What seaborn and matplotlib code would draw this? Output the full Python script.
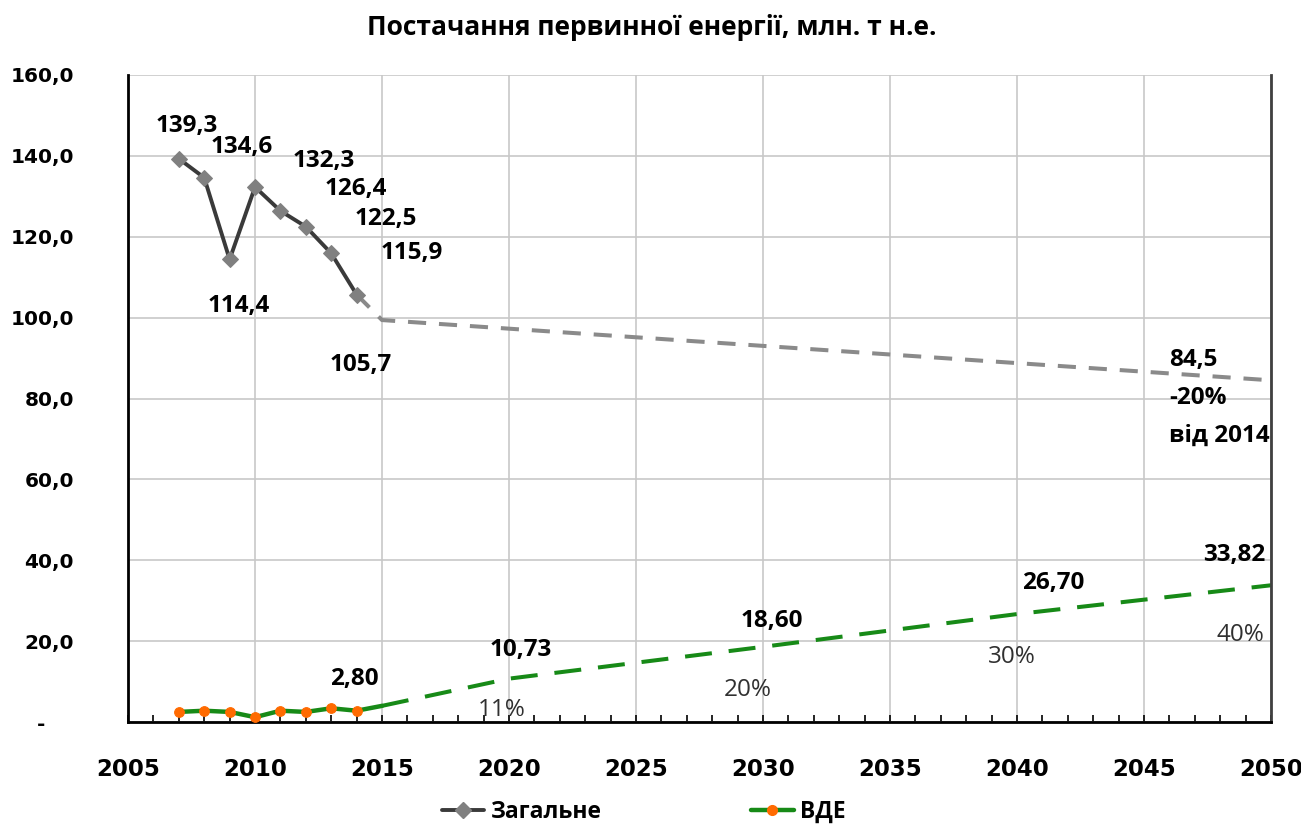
import numpy as np
import pandas as pd
import matplotlib
matplotlib.use("Agg")
import matplotlib.pyplot as plt
import seaborn as sns
from matplotlib.ticker import FuncFormatter, MultipleLocator
from matplotlib.lines import Line2D

# дані: загальне постачання первинної енергії
roky_fakt = [2007, 2008, 2009, 2010, 2011, 2012, 2013, 2014]
zagalne = [139.3, 134.6, 114.4, 132.3, 126.4, 122.5, 115.9, 105.7]
roky_prognoz = [2014, 2015, 2050]
zagalne_prognoz = [105.7, 99.4, 84.5]

# ВДЕ
roky_vde = [2007, 2008, 2009, 2010, 2011, 2012, 2013, 2014, 2015]
vde = [2.5, 2.8, 2.5, 1.2, 2.8, 2.5, 3.4, 2.8, 4.0]
roky_vde_prognoz = [2015, 2020, 2030, 2040, 2050]
vde_prognoz = [4.0, 10.73, 18.60, 26.70, 33.82]
chastka_vde = ["11%", "20%", "30%", "40%"]

sns.set_style("whitegrid")
plt.rcParams['font.family'] = ['Open Sans', 'DejaVu Sans']
plt.rcParams['text.color'] = 'black'
plt.rcParams['xtick.color'] = 'black'
plt.rcParams['ytick.color'] = 'black'

fig = plt.figure(figsize=(13.01, 8.25), dpi=100)
ax = fig.add_axes([0.0984, 0.1248, 0.8786, 0.7843])

df_f = pd.DataFrame({'rik': roky_fakt, 'v': zagalne})
df_p = pd.DataFrame({'rik': roky_prognoz, 'v': zagalne_prognoz})
df_v = pd.DataFrame({'rik': roky_vde, 'v': vde})
df_vp = pd.DataFrame({'rik': roky_vde_prognoz, 'v': vde_prognoz})

# прогнози (пунктир)
sns.lineplot(data=df_p, x='rik', y='v', ax=ax, color='#8a8a8a', lw=2.9, zorder=2)
ax.lines[-1].set_dashes((4.5, 3.2))
sns.lineplot(data=df_vp, x='rik', y='v', ax=ax, color='#178a17', lw=2.9, zorder=2)
ax.lines[-1].set_dashes((6.7, 4.2))

# факт
sns.lineplot(data=df_f, x='rik', y='v', ax=ax, color='#3a3a3a', lw=2.8,
             marker='D', markersize=8, markerfacecolor='#808080',
             markeredgecolor='#808080', zorder=3)
sns.lineplot(data=df_v, x='rik', y='v', ax=ax, color='#178a17', lw=3.2,
             marker='o', markersize=7, markerfacecolor='#ff6a00',
             markeredgecolor='#ff6a00', markevery=list(range(8)), zorder=3)

ax.set_xlim(2005, 2050)
ax.set_ylim(0, 160)
ax.xaxis.set_major_locator(MultipleLocator(5))
ax.xaxis.set_minor_locator(MultipleLocator(1))
ax.yaxis.set_major_locator(MultipleLocator(20))
ax.yaxis.set_major_formatter(FuncFormatter(
    lambda v, p: '-    ' if abs(v) < 1e-9 else f"{v:.1f}".replace('.', ',')))
ax.set_xlabel('')
ax.set_ylabel('')

ax.grid(True, color='#c8c8c8', lw=1.2)
for s in ['left', 'bottom']:
    ax.spines[s].set_color('black')
    ax.spines[s].set_linewidth(2)
ax.spines['right'].set_color('#404040')
ax.spines['right'].set_linewidth(2)
ax.spines['top'].set_visible(False)
ax.tick_params(axis='x', which='minor', direction='in', length=5, width=1.2,
               color='black', bottom=True)
ax.tick_params(axis='x', which='major', direction='in', length=5, width=1.2,
               color='black', bottom=True, pad=26, labelcolor='black')
ax.tick_params(axis='y', length=0, pad=39, labelcolor='black')
for t in ax.get_xticklabels():
    t.set_fontfamily('DejaVu Sans')
    t.set_fontweight('bold')
    t.set_fontsize(16.5)
for t in ax.get_yticklabels():
    t.set_fontfamily('DejaVu Sans')
    t.set_fontweight('bold')
    t.set_fontsize(14.5)

# підписи значень
lbl = dict(fontsize=17.5, fontweight='bold', color='black', ha='center', va='center')
pidpysy = [(2007.3, 147.4, "139,3"), (2009.47, 142.1, "134,6"), (2009.35, 102.9, "114,4"),
           (2012.72, 138.8, "132,3"), (2013.96, 131.7, "126,4"), (2015.16, 124.4, "122,5"),
           (2016.16, 115.9, "115,9"), (2014.15, 88.4, "105,7")]
for x, y, s in pidpysy:
    ax.text(x, y, s, **lbl)
pidpysy_vde = [(2013.9, 10.6, "2,80"), (2020.47, 17.7, "10,73"), (2030.35, 24.9, "18,60"),
               (2041.42, 34.5, "26,70"), (2048.54, 41.4, "33,82")]
for x, y, s in pidpysy_vde:
    ax.text(x, y, s, **lbl)

ax.text(2046.0, 89.5, "84,5", fontsize=17.5, fontweight='bold', ha='left', va='center')
ax.text(2046.0, 80.1, "-20%", fontsize=17.5, fontweight='bold', ha='left', va='center')
ax.text(2046.0, 70.7, "від 2014", fontsize=17.5, fontweight='bold', ha='left', va='center')

for (x, y), s in zip([(2019.7, 3.0), (2029.4, 8.0), (2039.8, 16.0), (2048.8, 21.5)], chastka_vde):
    ax.text(x, y, s, fontsize=17.5, color='#303030', ha='center', va='center')

fig.text(0.501, 0.967, "Постачання первинної енергії, млн. т н.е.",
         fontsize=19, fontweight='bold', color='black', ha='center', va='center')

handles = [Line2D([], [], color='#3a3a3a', lw=2.8, marker='D', markersize=8,
                  markerfacecolor='#808080', markeredgecolor='#808080'),
           Line2D([], [], color='#178a17', lw=3.2, marker='o', markersize=7,
                  markerfacecolor='#ff6a00', markeredgecolor='#ff6a00')]
leg = fig.legend(handles, ["Загальне", "ВДЕ"], loc='center', bbox_to_anchor=(0.495, 0.016),
                 ncol=2, frameon=False, columnspacing=6.5, handlelength=1.85, handletextpad=0.3,
                 labelcolor='black', prop={'weight': 'bold', 'size': 16.5})

fig.savefig("out.png", dpi=100)
